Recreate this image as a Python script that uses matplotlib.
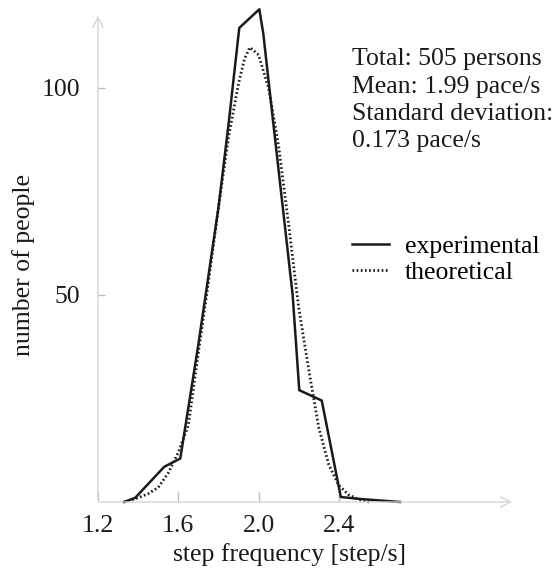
import matplotlib
matplotlib.use("Agg")
import matplotlib.pyplot as plt

# experimental distribution
exp_x = [1.33, 1.385, 1.53, 1.61, 1.70, 1.80, 1.85, 1.904, 2.004, 2.024, 2.07, 2.17, 2.203, 2.315, 2.41, 2.514, 2.705]
exp_y = [0, 1.0, 8.5, 10.5, 38, 71, 91, 114.5, 119, 113, 93, 50, 27, 24.5, 1.2, 0.7, 0]

# theoretical (normal fit) curve
theo_x = [1.33, 1.40, 1.45, 1.50, 1.55, 1.60, 1.65, 1.70, 1.75, 1.80, 1.85, 1.90, 1.93, 1.957,
          2.00, 2.05, 2.10, 2.15, 2.20, 2.25, 2.30, 2.35, 2.40, 2.45, 2.50, 2.55]
theo_y = [0, 1.0, 2.0, 3.5, 7.0, 12.0, 18.5, 36, 53, 71, 88, 101, 107, 109.8,
          108, 100, 86, 67, 47, 32, 18, 9, 4, 1.7, 0.6, 0]

xticks = [1.2, 1.6, 2.0, 2.4]
xticklabels = ["1.2", "1.6", "2.0", "2.4"]
yticks = [50, 100]

info_lines = ["Total: 505 persons", "Mean: 1.99 pace/s", "Standard deviation:", "0.173 pace/s"]


def main():
    plt.rcParams['font.family'] = ['Liberation Serif', 'DejaVu Serif']
    plt.rcParams['font.size'] = 18.5

    W, H = 560, 574
    fig = plt.figure(figsize=(W / 100, H / 100), dpi=100)
    ax = fig.add_axes([98 / W, (H - 502) / H, 417 / W, 489 / H])

    axis_col = '#d4d4d4'
    ax.plot(exp_x, exp_y, color='#1a1a1a', lw=1.8, label='experimental', clip_on=False, zorder=3)
    ax.plot(theo_x, theo_y, color='#1a1a1a', lw=2.0, linestyle=(0, (0.6, 0.9)),
            label='theoretical', clip_on=False, zorder=3)

    ax.set_xlim(1.2, 3.278)
    ax.set_ylim(0, 118.1)

    for s in ax.spines.values():
        s.set_visible(False)
    # axes with open arrow heads
    ax.annotate('', xy=(1.0, 0), xytext=(0, 0), xycoords='axes fraction',
                arrowprops=dict(arrowstyle='->', color=axis_col, lw=1.0, mutation_scale=18))
    ax.annotate('', xy=(0, 1.0), xytext=(0, 0), xycoords='axes fraction',
                arrowprops=dict(arrowstyle='->', color=axis_col, lw=1.0, mutation_scale=18))

    ax.set_xticks(xticks)
    ax.set_xticklabels(xticklabels)
    ax.set_yticks(yticks)
    ax.tick_params(axis='x', direction='in', length=7, width=1, color='#bdbdbd', pad=9,
                   labelcolor='#1a1a1a')
    ax.tick_params(axis='y', direction='in', length=5, width=1, color='#bdbdbd', pad=13,
                   labelcolor='#1a1a1a')

    ax.set_xlabel('step frequency [step/s]', va='center', color='#1a1a1a')
    ax.xaxis.set_label_coords(0.46, -0.108)
    ax.set_ylabel('number of people', va='center', color='#1a1a1a')
    ax.yaxis.set_label_coords(-0.178, 0.485)

    baselines = [65, 93, 120, 147]
    for txt, b in zip(info_lines, baselines):
        fig.text(352 / W, 1 - b / H, txt, ha='left', va='baseline', color='#1a1a1a')

    ax.legend(loc='upper left', bbox_to_anchor=(352 / W, 1 - 235 / H), bbox_transform=fig.transFigure,
              frameon=False, borderpad=0, borderaxespad=0, handlelength=1.45,
              handletextpad=0.6, labelspacing=0.1)

    fig.savefig('out.png', dpi=100)


if __name__ == "__main__":
    main()
